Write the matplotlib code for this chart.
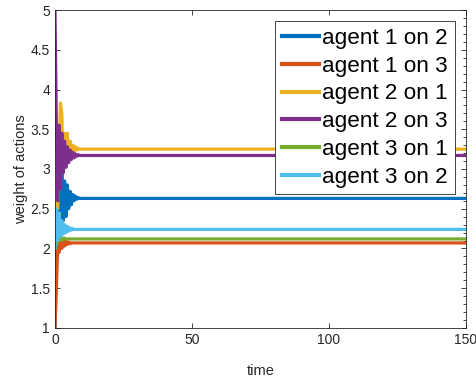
import matplotlib
matplotlib.use("Agg")
import matplotlib.pyplot as plt
from matplotlib.ticker import MultipleLocator

plt.rcParams['font.family'] = ['Liberation Sans', 'DejaVu Sans']

# time samples (early transient every 0.5, then steady to 150)
t = [0, 0.5, 1, 1.5, 2, 2.5, 3, 3.5, 4, 4.5, 5, 5.5, 6, 6.5, 7, 7.5, 8, 8.5, 9, 9.5, 10, 150]

a1_on_2 = [1.0, 1.8, 2.5, 3.0, 2.3, 2.95, 2.35, 2.85, 2.4, 2.8, 2.5, 2.72, 2.55, 2.68, 2.6, 2.66, 2.62, 2.64, 2.63, 2.63, 2.63, 2.63]
a1_on_3 = [1.0, 1.5, 2.0, 1.95, 2.15, 2.0, 2.12, 2.03, 2.1, 2.05, 2.08, 2.06, 2.07, 2.07, 2.07, 2.07, 2.07, 2.07, 2.07, 2.07, 2.07, 2.07]
a2_on_1 = [2.6, 2.55, 2.5, 3.2, 3.83, 3.7, 3.0, 3.45, 3.1, 3.45, 3.15, 3.35, 3.2, 3.3, 3.22, 3.28, 3.24, 3.26, 3.25, 3.25, 3.25, 3.25]
a2_on_3 = [5.0, 3.6, 2.6, 3.55, 2.75, 3.45, 2.95, 3.35, 3.02, 3.28, 3.08, 3.24, 3.12, 3.21, 3.14, 3.19, 3.16, 3.18, 3.17, 3.17, 3.17, 3.17]
a3_on_1 = [2.0, 2.05, 2.1, 2.15, 2.1, 2.14, 2.11, 2.13, 2.12, 2.12, 2.12, 2.12, 2.12, 2.12, 2.12, 2.12, 2.12, 2.12, 2.12, 2.12, 2.12, 2.12]
a3_on_2 = [2.0, 2.5, 2.1, 2.45, 2.15, 2.35, 2.18, 2.3, 2.2, 2.28, 2.22, 2.26, 2.23, 2.25, 2.24, 2.24, 2.24, 2.24, 2.24, 2.24, 2.24, 2.24]

labels = ['agent 1 on 2', 'agent 1 on 3', 'agent 2 on 1', 'agent 2 on 3', 'agent 3 on 1', 'agent 3 on 2']
colors = ['#0072BD', '#D95319', '#EDB120', '#7E2F8E', '#77AC30', '#4DBEEE']
series = [a1_on_2, a1_on_3, a2_on_1, a2_on_3, a3_on_1, a3_on_2]

fig = plt.figure(figsize=(4.76, 3.79), dpi=100)
ax = fig.add_axes([0.1155, 0.1346, 0.8635, 0.839])

for y, c, lab in zip(series, colors, labels):
    ax.plot(t, y, color=c, lw=2.3, label=lab)

ax.set_xlim(0, 150)
ax.set_ylim(1, 5)
ax.set_xticks([0, 50, 100, 150])
ax.set_yticks([1, 1.5, 2, 2.5, 3, 3.5, 4, 4.5, 5])
ax.set_yticklabels(['1', '1.5', '2', '2.5', '3', '3.5', '4', '4.5', '5'])
ax.yaxis.set_minor_locator(MultipleLocator(0.1))
ax.tick_params(which='major', direction='in', top=True, right=True, length=3.5,
               labelsize=10, colors='#262626', width=0.6)
ax.tick_params(which='minor', direction='in', left=False, right=True, length=2,
               colors='#262626', width=0.6)
for s in ax.spines.values():
    s.set_color('#262626')
    s.set_linewidth(0.6)

ax.set_xlabel('time', fontsize=10.5, color='#262626', labelpad=12)
ax.set_ylabel('weight of actions', fontsize=10.5, color='#262626', labelpad=2)

leg = ax.legend(loc='upper right', bbox_to_anchor=(0.973, 0.965), fontsize=16.2,
                frameon=True, fancybox=False, edgecolor='#262626', framealpha=1,
                handlelength=1.65, handletextpad=0.15, borderpad=0.3,
                labelspacing=0.3, borderaxespad=0)
leg.get_frame().set_linewidth(0.6)
for line in leg.get_lines():
    line.set_linewidth(3)

fig.savefig('out.png', dpi=100)
